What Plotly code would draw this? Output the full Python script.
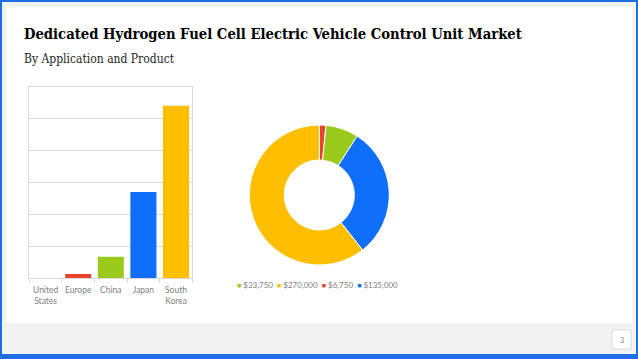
import plotly.graph_objects as go

# ---- data ----
regions = ["United<br>States", "Europe", "China", "Japan", "South<br>Korea"]
region_values = [0, 6750, 33750, 135000, 270000]
region_colors = ["#a5a5a5", "#e8432d", "#9acb1c", "#0f6ffb", "#ffbf00"]

legend_labels = ["$33,750", "$270,000", "$6,750", "$135,000"]
legend_colors = ["#9acb1c", "#ffbf00", "#e8432d", "#0f6ffb"]

title_text = "Dedicated Hydrogen Fuel Cell Electric Vehicle Control Unit Market"
subtitle_text = "By Application and Product"
page_number = "3"

W, H = 638, 359


def px(x):
    return x / W


def py(y):
    return 1 - y / H


fig = go.Figure()

fig.add_trace(go.Bar(
    x=regions, y=region_values,
    marker=dict(color=region_colors, line=dict(width=0)),
    showlegend=False, hoverinfo="x+y",
))

fig.add_trace(go.Pie(
    values=region_values,
    labels=[f"${v:,}" for v in region_values],
    marker=dict(colors=region_colors, line=dict(color="white", width=1)),
    hole=0.5, sort=False, direction="clockwise", rotation=0,
    textinfo="none", showlegend=False,
    domain=dict(x=[px(249.3), px(389.3)], y=[py(265), py(125)]),
))

axis_grey = "#d9d9d9"
fig.update_layout(
    width=W, height=H,
    margin=dict(l=0, r=0, t=0, b=0),
    paper_bgcolor="#1f6fe3",
    plot_bgcolor="rgba(0,0,0,0)",
    bargap=0.2,
    showlegend=False,
    xaxis=dict(
        domain=[px(29.3), px(192.3)],
        showline=True, linecolor=axis_grey, linewidth=1, mirror=True,
        ticks="outside", tickson="boundaries", ticklen=4, tickcolor=axis_grey,
        tickangle=0, ticklabelstandoff=3,
        tickfont=dict(family="Lato", size=8.5, color="#808080"),
        showgrid=False, fixedrange=True,
    ),
    yaxis=dict(
        domain=[py(278.3), py(86.7)],
        range=[0, 300000], dtick=50000,
        showticklabels=False, showgrid=True, gridcolor=axis_grey, gridwidth=1,
        showline=True, linecolor=axis_grey, linewidth=1, mirror=True,
        zeroline=False, ticks="", fixedrange=True,
    ),
    shapes=[
        dict(type="rect", xref="paper", yref="paper", layer="below",
             x0=px(2), x1=px(636), y0=py(354), y1=py(2),
             fillcolor="#f2f2f2", line=dict(width=0)),
        dict(type="rect", xref="paper", yref="paper", layer="below",
             x0=px(6), x1=px(632), y0=py(323), y1=py(6),
             fillcolor="white", line=dict(width=0)),
        dict(type="rect", xref="paper", yref="paper", layer="below",
             x0=px(612), x1=px(631), y0=py(349), y1=py(330),
             fillcolor="white", line=dict(color=axis_grey, width=1)),
    ],
)

legend_text = "  ".join(
    f"<span style='color:{c};font-size:7px'>■</span> {lbl}"
    for lbl, c in zip(legend_labels, legend_colors)
)

annotations = [
    dict(text=f"<b>{title_text}</b>", x=px(22), y=py(33.5), xref="paper", yref="paper",
         xanchor="left", yanchor="middle", showarrow=False,
         font=dict(family="DejaVu Serif Condensed", size=14.7, color="#000000")),
    dict(text=subtitle_text, x=px(22), y=py(59), xref="paper", yref="paper",
         xanchor="left", yanchor="middle", showarrow=False,
         font=dict(family="DejaVu Serif Condensed", size=12, color="#262626")),
    dict(text=page_number, x=px(621.5), y=py(339.5), xref="paper", yref="paper",
         xanchor="center", yanchor="middle", showarrow=False,
         font=dict(family="Lato", size=7, color="#7f7f7f")),
    dict(text=legend_text,
         x=px(317), y=py(285), xref="paper", yref="paper",
         xanchor="center", yanchor="middle", showarrow=False,
         font=dict(family="Lato", size=8, color="#808080")),
]
fig.update_layout(annotations=annotations)

fig.write_html(
    "out.html",
    config={"displayModeBar": False},
    post_script="document.body.style.margin='0';document.body.style.padding='0';"
                "document.documentElement.style.overflow='hidden';",
)
